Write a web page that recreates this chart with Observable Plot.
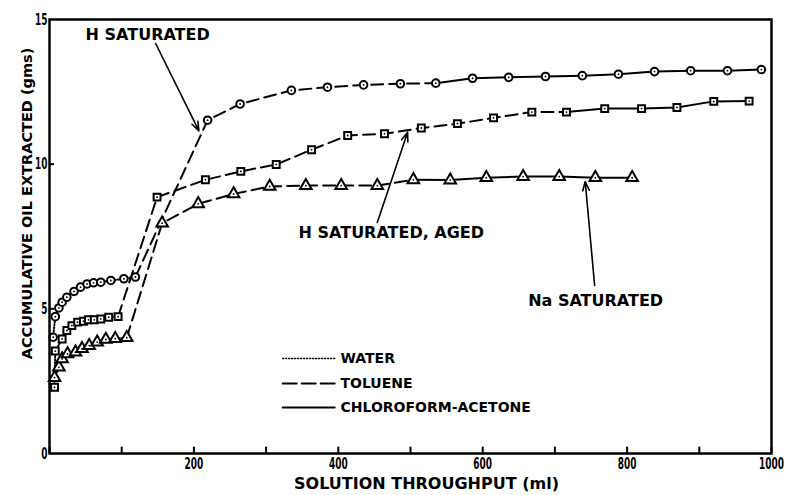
<!DOCTYPE html>
<html><head><meta charset="utf-8">
<script src="https://cdn.jsdelivr.net/npm/d3@7"></script>
<script src="https://cdn.jsdelivr.net/npm/@observablehq/plot@0.6"></script>
<style>
html,body{margin:0;padding:0;background:#fff;}
#chart svg{display:block;}
</style></head><body><div id="chart"></div>
<script>
// ---- data ----
const solvents = ["WATER", "TOLUENE", "CHLOROFORM-ACETONE"];

// H saturated (circles); solvent index: 0 water, 1 toluene, 2 chloroform-acetone
const hSatX = [5, 8, 13, 17.5, 24, 34, 43, 52, 61, 71, 85, 103, 119, 219, 264, 335, 385, 435, 486, 535, 586, 636, 687, 738, 788, 838, 888, 939, 986];
const hSatY = [4.02, 4.73, 5.03, 5.23, 5.4, 5.6, 5.75, 5.86, 5.9, 5.92, 5.98, 6.04, 6.1, 11.52, 12.08, 12.55, 12.66, 12.74, 12.78, 12.8, 12.97, 13.0, 13.03, 13.06, 13.11, 13.2, 13.23, 13.23, 13.27];
const hSatSolvent = [0,0,0,0,0,0,0,0,0,0,0,0,0, 1,1,1,1,1,1,1, 2,2,2,2,2,2,2,2,2];

// H saturated, aged (squares)
const hAgedX = [7, 8, 17.5, 24, 31, 39, 47, 54, 62, 71, 82, 95, 149, 216, 265, 314, 363, 413, 464, 515, 565, 615, 668, 716, 769, 820, 869, 920, 969];
const hAgedY = [2.29, 3.54, 3.96, 4.25, 4.42, 4.54, 4.57, 4.62, 4.62, 4.65, 4.71, 4.73, 8.86, 9.46, 9.75, 9.99, 10.5, 10.99, 11.05, 11.25, 11.4, 11.6, 11.8, 11.8, 11.92, 11.92, 11.96, 12.17, 12.18];
const hAgedSolvent = [0,0,0,0,0,0,0,0,0,0,0,0, 1,1,1,1,1,1,1,1,1,1,1,1, 2,2,2,2,2];

// Na saturated (triangles)
const naSatX = [7, 13, 17.5, 25, 36, 45, 55, 66, 78, 91, 107, 156, 206, 255, 305, 355, 404, 454, 504, 555, 605, 656, 706, 756, 807];
const naSatY = [2.62, 2.98, 3.27, 3.44, 3.5, 3.62, 3.73, 3.85, 3.94, 3.97, 4.0, 7.96, 8.63, 8.97, 9.23, 9.26, 9.26, 9.26, 9.46, 9.45, 9.53, 9.57, 9.57, 9.53, 9.53];
const naSatSolvent = [0,0,0,0,0,0,0,0,0,0,0, 1,1,1,1,1,1,1,1, 2,2,2,2,2,2];

const xTicks = [0, 100, 200, 300, 400, 500, 600, 700, 800, 900, 1000];
const xTickLabels = [200, 400, 600, 800, 1000];
const yTicks = [0, 5, 10, 15];
const xTitle = "SOLUTION THROUGHPUT (ml)";
const yTitle = "ACCUMULATIVE OIL EXTRACTED (gms)";

const annotLabels = ["H SATURATED", "H SATURATED, AGED", "Na SATURATED"];
const annotX = [50, 345, 663];
const annotY = [14.48, 7.64, 5.29];
const arrowX1 = [147, 454, 755];
const arrowY1 = [14.17, 7.98, 5.81];
const arrowX2 = [207, 496, 742];
const arrowY2 = [11.15, 11.1, 9.4];

// legend sample positions (data units)
const legendX1 = 323, legendX2 = 395, legendTextX = 403;
const legendY = [3.28, 2.42, 1.59];

// ---- build ----
const dashFor = ["1,2", "12,6", null];
function runs(xs, ys, ss, name) {
  const rows = [];
  let run = -1, prev = null;
  for (let i = 1; i < xs.length; i++) {
    const s = ss[i];
    if (s !== prev) {
      run++;
      rows.push({x: xs[i-1], y: ys[i-1], s, run: name + run});
      prev = s;
    }
    rows.push({x: xs[i], y: ys[i], s, run: name + run});
  }
  return rows;
}
const lineRows = [
  ...runs(hSatX, hSatY, hSatSolvent, "c"),
  ...runs(hAgedX, hAgedY, hAgedSolvent, "s"),
  ...runs(naSatX, naSatY, naSatSolvent, "t")
];
const pts = (xs, ys) => xs.map((x, i) => ({x, y: ys[i]}));
const circles = pts(hSatX, hSatY), squares = pts(hAgedX, hAgedY), triangles = pts(naSatX, naSatY);

const bold = "DejaVu Sans, Verdana, sans-serif";

const lineMarks = [0, 1, 2].map(s => Plot.line(lineRows.filter(d => d.s === s), {
  x: "x", y: "y", z: "run", stroke: "black", strokeWidth: 2,
  strokeDasharray: dashFor[s] || undefined
}));

const legendRows = solvents.flatMap((name, i) => [
  {x: legendX1, y: legendY[i], s: i}, {x: legendX2, y: legendY[i], s: i}
]);
const legendLines = [0, 1, 2].map(s => Plot.line(legendRows.filter(d => d.s === s), {
  x: "x", y: "y", stroke: "black", strokeWidth: s === 0 ? 1.5 : 2,
  strokeDasharray: s === 0 ? "1,2" : (s === 1 ? "14,5" : undefined)
}));

const dotStyle = {x: "x", y: "y", fill: "white", stroke: "black", strokeWidth: 2};
const chart = Plot.plot({
  width: 788, height: 495,
  marginLeft: 49, marginRight: 17, marginTop: 19, marginBottom: 42,
  x: {domain: [0, 1000]},
  y: {domain: [0, 15]},
  style: {background: "white", color: "black"},
  marks: [
    ...lineMarks,
    Plot.dot(circles, {...dotStyle, symbol: "circle", r: 3.8}),
    Plot.dot(squares, {...dotStyle, symbol: "square", r: 3.9}),
    Plot.dot(triangles, {...dotStyle, symbol: "triangle", r: 4.3}),
    Plot.dot([...circles, ...squares, ...triangles], {x: "x", y: "y", r: 0.9, fill: "black"}),
    Plot.ruleX(xTicks, {x: d => d, y1: 0, y2: 0.22, stroke: "black", strokeWidth: 2}),
    Plot.ruleY(yTicks.filter(d => d > 0 && d < 15), {y: d => d, x1: 0, x2: 7, stroke: "black", strokeWidth: 2}),
    Plot.frame({stroke: "black", strokeWidth: 2.5}),
    Plot.axisX({ticks: xTickLabels, tickSize: 0, tickPadding: 4, tickFormat: "d", label: null,
      fontSize: 16, fontWeight: "bold", fontFamily: bold}),
    Plot.axisY({ticks: yTicks, tickSize: 0, tickPadding: 2, tickFormat: "d", label: null,
      fontSize: 16, fontWeight: "bold", fontFamily: bold}),
    Plot.text([xTitle], {frameAnchor: "bottom", lineAnchor: "middle", textAnchor: "middle", dx: 16, dy: 30,
      text: d => d, fontSize: 16, fontWeight: "bold", fontFamily: bold, fill: "black"}),
    Plot.text([yTitle], {frameAnchor: "left", textAnchor: "middle", lineAnchor: "middle", rotate: -90, dx: -22, dy: -33,
      text: d => d, fontSize: 14.5, fontWeight: "bold", fontFamily: bold, fill: "black"}),
    Plot.arrow(annotLabels.map((t, i) => ({x1: arrowX1[i], y1: arrowY1[i], x2: arrowX2[i], y2: arrowY2[i]})),
      {x1: "x1", y1: "y1", x2: "x2", y2: "y2", stroke: "black", strokeWidth: 1.6, headLength: 9, headAngle: 40}),
    Plot.text(annotLabels.map((t, i) => ({t, x: annotX[i], y: annotY[i]})),
      {x: "x", y: "y", text: "t", textAnchor: "start", fontSize: 16, fontWeight: "bold", fontFamily: bold, fill: "black"}),
    ...legendLines,
    Plot.text(solvents.map((t, i) => ({t, x: legendTextX, y: legendY[i]})),
      {x: "x", y: "y", text: "t", textAnchor: "start", fontSize: 14, fontWeight: "bold", fontFamily: bold, fill: "black"})
  ]
});
// condensed look for the numeric tick labels
d3.select(chart).selectAll('g[aria-label="x-axis tick label"] text, g[aria-label="y-axis tick label"] text')
  .attr("transform", function () { return (this.getAttribute("transform") || "") + " scale(0.56,1)"; });
document.getElementById("chart").appendChild(chart);
</script>
</body></html>
